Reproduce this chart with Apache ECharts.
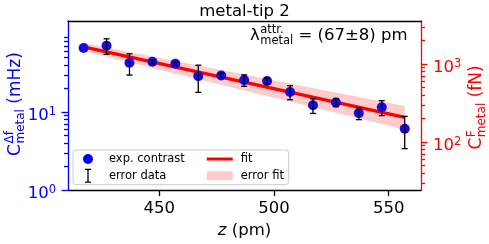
<!DOCTYPE html>
<html><head><meta charset="utf-8">
<script src="https://cdn.jsdelivr.net/npm/echarts@6/dist/echarts.min.js"></script>
<style>html,body{margin:0;padding:0;background:#fff}#c{width:489px;height:244px}</style>
</head><body><div id="c"></div>
<script>
// ---- data ----
const zValues = [417, 427, 437, 447, 457, 467, 477, 487, 497, 507, 517, 527, 537, 547, 557];
const contrast = [66.4, 71.0, 42.8, 44.1, 41.6, 28.9, 29.5, 25.7, 25.0, 18.1, 12.2, 13.3, 9.7, 11.5, 6.1];
const contrastErr = [0, 16, 13, 2.5, 2, 11, 2, 4.3, 2.2, 3.7, 2.6, 1.6, 1.7, 2.5, 2.7];
const fitZ = [417, 557];
const fitValues = [68.4, 8.57];
const bandLower = [60.1, 5.96];
const bandUpper = [76.9, 12.0];

const xRange = [410.2, 564.1];
const leftRange = [1, 147];
const forceFactor = 24.3; // fN per mHz (right axis scale)
const rightRange = [leftRange[0] * forceFactor, leftRange[1] * forceFactor];

const xTickValues = [450, 500, 550];
const leftMajor = [1, 10];
const leftTickLabels = ['10^0', '10^1'];
const leftMinor = [2, 3, 4, 5, 6, 7, 8, 9, 20, 30, 40, 50, 60, 70, 80, 90];
const rightMajor = [100, 1000];
const rightTickLabels = ['10^2', '10^3'];
const rightMinor = [30, 40, 50, 60, 70, 80, 90, 200, 300, 400, 500, 600, 700, 800, 900, 2000, 3000];

// ---- styling ----
const FONT = 'DejaVu Sans';
const BLUE = '#0000ff', RED = '#ff0000';
const L = Math.log10;

function measure(text, size, style) {
  const c = document.createElement('canvas').getContext('2d');
  c.font = (style || '') + ' ' + size + 'px "' + FONT + '"';
  return c.measureText(text).width;
}
function powLabel(values, labels) {
  return function (v) {
    for (let i = 0; i < values.length; i++) {
      if (Math.abs(L(values[i]) - v) < 1e-6) {
        const p = labels[i].split('^');
        return '{b|' + p[0] + '}{s|' + p[1] + '}';
      }
    }
    return '';
  };
}
function richFor(color) {
  return {
    b: { fontSize: 16.5, fontFamily: FONT, color: color },
    s: { fontSize: 11.5, fontFamily: FONT, color: color, padding: [0, 0, 9, 0] }
  };
}

function tickAxis(pos, range, values, len, color, labels) {
  const ax = {
    type: 'value', gridIndex: 0, position: pos,
    min: L(range[0]), max: L(range[1]),
    axisLine: { show: false, onZero: false },
    splitLine: { show: false },
    axisTick: { show: true, customValues: values.map(L), length: len, lineStyle: { color: color, width: 1.3 } },
    axisLabel: { show: false }
  };
  if (labels) {
    ax.axisLabel = {
      show: true, customValues: values.map(L), margin: 12, padding: [8, 0, 0, 0],
      formatter: powLabel(values, labels), rich: richFor(color)
    };
  }
  return ax;
}

// composite math-like label: main + stacked super/sub + rest
function mathGroup(cx, cy, rot, main, sup, sub, rest, color, mainSize, subSize, supDy, subDy) {
  const wMain = measure(main, mainSize);
  const wS = Math.max(measure(sup, subSize), measure(sub, subSize));
  const wRest = measure(rest, mainSize);
  const total = wMain + 0.5 + wS + wRest;
  const x0 = -total / 2;
  const st = (t, size) => ({ text: t, font: size + 'px "' + FONT + '"', fill: color, align: 'left', verticalAlign: 'middle' });
  return {
    type: 'group', x: cx, y: cy, rotation: rot, silent: true,
    children: [
      { type: 'text', x: x0, y: 0, style: st(main, mainSize) },
      { type: 'text', x: x0 + wMain + 0.5, y: supDy, style: st(sup, subSize) },
      { type: 'text', x: x0 + wMain + 0.5, y: subDy, style: st(sub, subSize) },
      { type: 'text', x: x0 + wMain + 0.5 + wS, y: 0, style: st(rest, mainSize) }
    ]
  };
}

const lamMain = 16.5, lamSub = 11.5;
const lamX = 250;
const lamSupX = lamX + measure('λ', lamMain) + 0.5;
const lamRestX = lamSupX + Math.max(measure('attr.', lamSub), measure('metal', lamSub));
const lamSt = (t, size) => ({ text: t, font: size + 'px "' + FONT + '"', fill: '#000', align: 'left', verticalAlign: 'middle' });

const chart = echarts.init(document.getElementById('c'), null, { renderer: 'canvas' });
const option = {
  animation: false,
  backgroundColor: '#fff',
  title: {
    text: 'metal-tip 2', left: 'center', top: 3, padding: 0,
    textStyle: { fontSize: 16.5, fontWeight: 'normal', color: '#000', fontFamily: FONT }
  },
  grid: { left: 68, top: 21, width: 353, height: 171, containLabel: false },
  legend: {
    left: 73, top: 150, orient: 'horizontal', width: 216,
    padding: [2, 3, 2, 10], itemGap: 2.7, itemWidth: 26, itemHeight: 14,
    backgroundColor: 'rgba(255,255,255,0.85)', borderColor: '#cccccc', borderWidth: 1, borderRadius: 3,
    selectedMode: false,
    itemStyle: { borderWidth: 0 },
    lineStyle: { width: 0 },
    textStyle: { fontSize: 11.5, fontFamily: FONT, color: '#000', width: 95, lineHeight: 14, padding: [0, 0, 0, 3] },
    data: [
      { name: 'exp. contrast', icon: 'path://M0,-7M0,7M-5,0A5,5,0,1,1,5,0A5,5,0,1,1,-5,0Z', itemStyle: { color: BLUE } },
      { name: 'fit', icon: 'path://M0,0H26V3H0Z', itemStyle: { color: RED }, textStyle: { width: 45 } },
      { name: 'error data', icon: 'path://M-3,0H3V1.3H0.65V12.7H3V14H-3V12.7H-0.65V1.3H-3Z', itemStyle: { color: '#000' } },
      { name: 'error fit', icon: 'path://M0,0H26V9H0Z', itemStyle: { color: 'rgba(255,0,0,0.2)' }, textStyle: { width: 45 } }
    ]
  },
  xAxis: [
    {
      type: 'value', gridIndex: 0, position: 'bottom', min: xRange[0], max: xRange[1],
      axisLine: { onZero: false, lineStyle: { color: '#000', width: 1.3 } },
      axisTick: { customValues: xTickValues, length: 6, lineStyle: { color: '#000', width: 1.3 } },
      axisLabel: { customValues: xTickValues, margin: 10, fontSize: 16.5, color: '#000', fontFamily: FONT },
      splitLine: { show: false },
      name: '{i|z} (pm)', nameLocation: 'middle', nameGap: 29,
      nameTextStyle: { fontSize: 16.5, color: '#000', fontFamily: FONT,
        rich: { i: { fontStyle: 'italic', fontSize: 16.5, fontFamily: FONT, color: '#000' } } }
    },
    {
      type: 'value', gridIndex: 0, position: 'top', min: xRange[0], max: xRange[1],
      axisLine: { onZero: false, lineStyle: { color: '#000', width: 1.3 } },
      axisTick: { show: false }, axisLabel: { show: false }, splitLine: { show: false }
    }
  ],
  yAxis: [
    {
      type: 'log', logBase: 10, gridIndex: 0, position: 'left', min: leftRange[0], max: leftRange[1],
      axisLine: { show: true, onZero: false, lineStyle: { color: BLUE, width: 1.3 } },
      axisTick: { show: false }, axisLabel: { show: false }, splitLine: { show: false }, minorTick: { show: false }
    },
    tickAxis('left', leftRange, leftMajor, 6.5, BLUE, leftTickLabels),
    tickAxis('left', leftRange, leftMinor, 4, BLUE, null),
    {
      type: 'log', logBase: 10, gridIndex: 0, position: 'right', min: rightRange[0], max: rightRange[1],
      axisLine: { show: true, onZero: false, lineStyle: { color: RED, width: 1.3 } },
      axisTick: { show: false }, axisLabel: { show: false }, splitLine: { show: false }, minorTick: { show: false }
    },
    tickAxis('right', rightRange, rightMajor, 6.5, RED, rightTickLabels),
    tickAxis('right', rightRange, rightMinor, 4, RED, null)
  ],
  series: [
    {
      name: 'error fit', type: 'custom', xAxisIndex: 0, yAxisIndex: 0, z: 1,
      itemStyle: { color: 'rgba(255,0,0,0.2)' },
      encode: { x: 0, y: [1, 2] },
      data: fitZ.map((z, i) => [z, bandLower[i], bandUpper[i]]),
      renderItem: function (params, api) {
        const i = params.dataIndexInside;
        if (i >= params.dataInsideLength - 1) return null;
        const a = api.value(0, i), b = api.value(0, i + 1);
        const pts = [
          api.coord([a, api.value(2, i)]), api.coord([b, api.value(2, i + 1)]),
          api.coord([b, api.value(1, i + 1)]), api.coord([a, api.value(1, i)])
        ];
        return { type: 'polygon', shape: { points: pts }, style: { fill: 'rgba(255,0,0,0.2)' } };
      }
    },
    {
      name: 'fit', type: 'line', xAxisIndex: 0, yAxisIndex: 0, z: 2,
      showSymbol: false, symbol: 'none',
      lineStyle: { color: RED, width: 3.3 }, itemStyle: { color: RED },
      data: fitZ.map((z, i) => [z, fitValues[i]])
    },
    {
      name: 'exp. contrast', type: 'scatter', xAxisIndex: 0, yAxisIndex: 0, z: 3,
      symbol: 'circle', symbolSize: 10,
      itemStyle: { color: '#1a08e6', opacity: 1 },
      data: zValues.map((z, i) => [z, contrast[i]])
    },
    {
      name: 'error data', type: 'custom', xAxisIndex: 0, yAxisIndex: 0, z: 4,
      itemStyle: { color: '#000' },
      encode: { x: 0, y: 1 },
      data: zValues.map((z, i) => [z, contrast[i], contrastErr[i]]),
      renderItem: function (params, api) {
        const x = api.value(0), v = api.value(1), e = api.value(2);
        if (!(e > 0)) return null;
        const t = api.coord([x, v + e]), b = api.coord([x, v - e]);
        const hw = 3, s = { stroke: '#000', lineWidth: 1.3 };
        return {
          type: 'group', children: [
            { type: 'line', shape: { x1: t[0], y1: t[1], x2: b[0], y2: b[1] }, style: s },
            { type: 'line', shape: { x1: t[0] - hw, y1: t[1], x2: t[0] + hw, y2: t[1] }, style: s },
            { type: 'line', shape: { x1: b[0] - hw, y1: b[1], x2: b[0] + hw, y2: b[1] }, style: s }
          ]
        };
      }
    }
  ],
  graphic: [
    mathGroup(15.5, 104, Math.PI / 2, 'C', 'Δf', 'metal', ' (mHz)', BLUE, 17, 12, -5.5, 5),
    mathGroup(477, 107.5, Math.PI / 2, 'C', 'F', 'metal', ' (fN)', RED, 17, 12, -5.5, 5),
    { type: 'text', x: lamX, y: 36, silent: true, style: lamSt('λ', lamMain) },
    { type: 'text', x: lamSupX, y: 30.5, silent: true, style: lamSt('attr.', lamSub) },
    { type: 'text', x: lamSupX, y: 41.5, silent: true, style: lamSt('metal', lamSub) },
    { type: 'text', x: lamRestX, y: 36, silent: true, style: lamSt(' = (67±8) pm', lamMain) }
  ]
};
chart.setOption(option);
</script>
</body></html>
